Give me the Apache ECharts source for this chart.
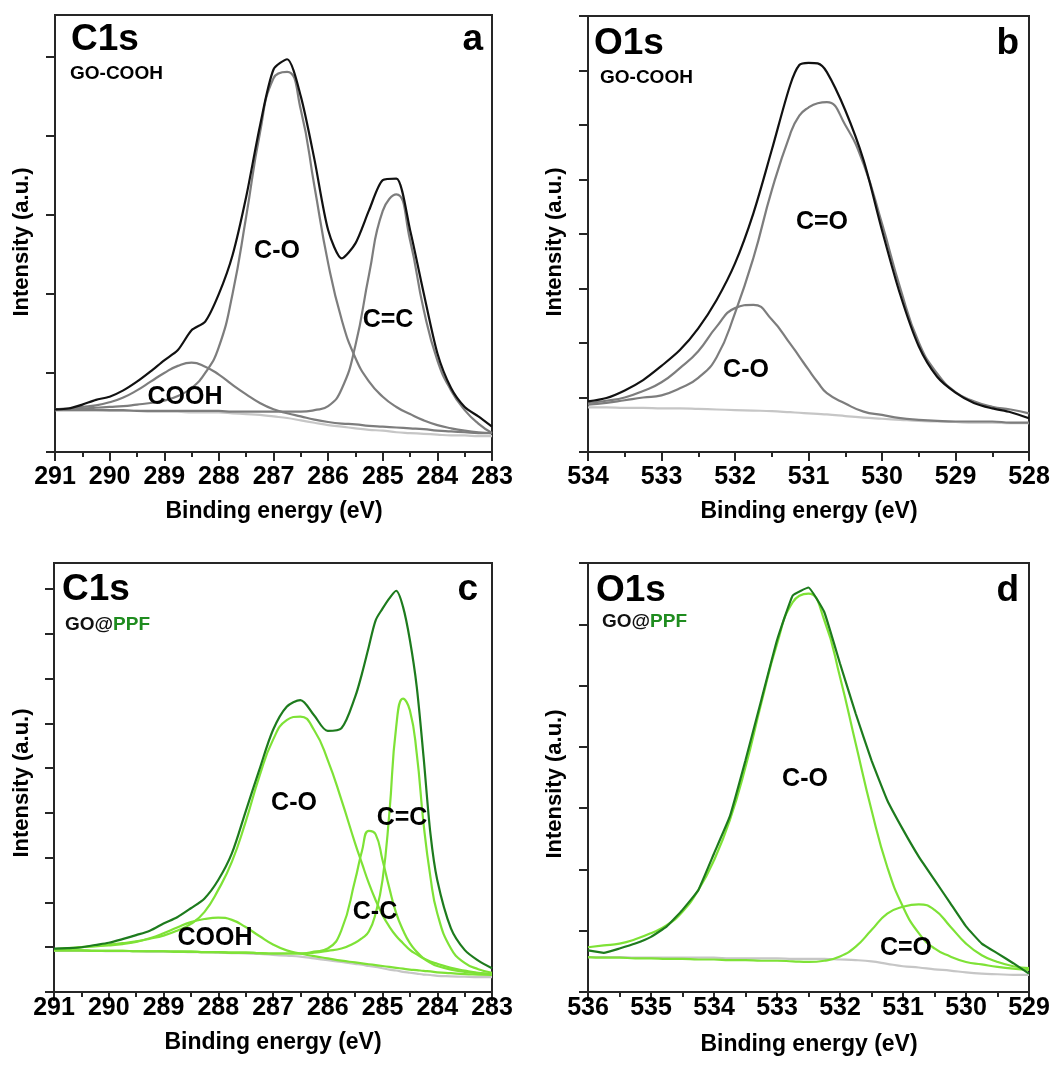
<!DOCTYPE html>
<html>
<head>
<meta charset="utf-8">
<script src="https://cdn.jsdelivr.net/npm/echarts@6/dist/echarts.min.js"></script>
<style>
html, body { margin: 0; padding: 0; background: #fff; }
#chart { width: 1058px; height: 1072px; }
</style>
</head>
<body>
<div id="chart"></div>
<script>
// panel a : C1s, GO-COOH
var energyA = [291, 290.75, 290.5, 290.25, 290, 289.75, 289.5, 289.25, 289, 288.75, 288.5, 288.25, 288, 287.75, 287.5, 287.25, 287, 286.75, 286.5, 286.25, 286, 285.75, 285.5, 285.25, 285, 284.75, 284.5, 284.25, 284, 283.75, 283.5, 283.25, 283];
var envelopeA = [0.54, 0.55, 0.60, 0.66, 0.70, 0.78, 0.89, 1.02, 1.16, 1.29, 1.54, 1.65, 2.00, 2.49, 3.23, 4.12, 4.84, 4.97, 4.50, 3.70, 2.81, 2.45, 2.64, 3.06, 3.44, 3.46, 2.81, 2.01, 1.25, 0.81, 0.57, 0.45, 0.32];
var coohA = [0.54, 0.55, 0.57, 0.59, 0.63, 0.69, 0.78, 0.89, 1.00, 1.09, 1.13, 1.08, 0.98, 0.85, 0.73, 0.62, 0.54, 0.49, 0.45, 0.41, 0.38, 0.36, 0.35, 0.33, 0.32, 0.31, 0.30, 0.29, 0.27, 0.26, 0.25, 0.24, 0.24];
var coA = [0.54, 0.55, 0.55, 0.56, 0.57, 0.58, 0.60, 0.62, 0.65, 0.71, 0.81, 1.00, 1.33, 2.00, 2.98, 4.03, 4.73, 4.81, 4.33, 3.36, 2.39, 1.67, 1.19, 0.89, 0.70, 0.57, 0.48, 0.40, 0.34, 0.30, 0.27, 0.25, 0.24];
var ccA = [0.53, 0.53, 0.53, 0.53, 0.53, 0.53, 0.52, 0.52, 0.52, 0.52, 0.52, 0.52, 0.52, 0.51, 0.51, 0.51, 0.51, 0.51, 0.51, 0.53, 0.58, 0.80, 1.35, 2.25, 3.05, 3.26, 2.68, 1.80, 1.16, 0.78, 0.53, 0.36, 0.24];
var bgA = [0.53, 0.53, 0.53, 0.53, 0.52, 0.52, 0.52, 0.51, 0.51, 0.51, 0.50, 0.50, 0.50, 0.49, 0.48, 0.47, 0.45, 0.43, 0.40, 0.37, 0.34, 0.32, 0.30, 0.28, 0.27, 0.25, 0.24, 0.23, 0.22, 0.21, 0.21, 0.20, 0.20];

// panel b : O1s, GO-COOH
var energyB = [534, 533.75, 533.5, 533.25, 533, 532.75, 532.5, 532.25, 532, 531.75, 531.5, 531.25, 531.125, 531, 530.875, 530.75, 530.5, 530.25, 530, 529.75, 529.5, 529.25, 529, 528.75, 528.5, 528.25, 528];
var envelopeB = [0.93, 0.99, 1.13, 1.32, 1.58, 1.87, 2.27, 2.79, 3.46, 4.38, 5.54, 6.73, 7.10, 7.14, 7.13, 6.97, 6.27, 5.35, 4.07, 2.88, 1.94, 1.38, 1.09, 0.90, 0.80, 0.73, 0.62];
var coB = [0.90, 0.94, 1.00, 1.12, 1.28, 1.54, 1.85, 2.30, 2.64, 2.70, 2.43, 1.99, 1.75, 1.51, 1.28, 1.08, 0.89, 0.74, 0.68, 0.62, 0.59, 0.57, 0.56, 0.56, 0.56, 0.54, 0.54];
var cdoB = [0.87, 0.90, 0.95, 1.00, 1.04, 1.17, 1.36, 1.74, 2.55, 3.56, 4.80, 5.83, 6.17, 6.32, 6.40, 6.42, 6.00, 5.28, 4.19, 3.00, 2.01, 1.44, 1.10, 0.93, 0.83, 0.78, 0.71];
var bgB = [0.82, 0.82, 0.81, 0.81, 0.80, 0.80, 0.79, 0.78, 0.77, 0.76, 0.75, 0.73, 0.72, 0.71, 0.70, 0.69, 0.66, 0.63, 0.61, 0.59, 0.57, 0.56, 0.55, 0.54, 0.54, 0.53, 0.53];

// panel c : C1s, GO@PPF
var energyC = [291, 290.75, 290.5, 290.25, 290, 289.75, 289.5, 289.25, 289, 288.75, 288.5, 288.25, 288, 287.75, 287.5, 287.25, 287, 286.75, 286.5, 286.25, 286, 285.75, 285.5, 285.375, 285.25, 285.125, 285, 284.875, 284.75, 284.625, 284.5, 284.375, 284.25, 284.125, 284, 283.75, 283.5, 283.25, 283];
var envelopeC = [0.97, 0.98, 1.00, 1.05, 1.10, 1.18, 1.27, 1.37, 1.53, 1.67, 1.87, 2.09, 2.50, 3.10, 4.03, 4.96, 5.85, 6.37, 6.52, 6.18, 5.83, 5.89, 6.59, 7.11, 7.71, 8.30, 8.56, 8.79, 8.96, 8.60, 7.86, 6.82, 5.25, 3.54, 2.50, 1.42, 0.94, 0.70, 0.53];
var coC = [0.95, 0.97, 1.00, 1.03, 1.06, 1.09, 1.13, 1.19, 1.26, 1.37, 1.52, 1.79, 2.28, 2.91, 3.80, 4.81, 5.63, 6.07, 6.15, 5.85, 5.18, 4.29, 3.32, 2.87, 2.43, 2.05, 1.72, 1.46, 1.25, 1.09, 0.94, 0.84, 0.75, 0.68, 0.63, 0.54, 0.48, 0.43, 0.40];
var ccC = [0.93, 0.93, 0.93, 0.92, 0.92, 0.92, 0.91, 0.91, 0.91, 0.90, 0.90, 0.89, 0.89, 0.88, 0.88, 0.87, 0.86, 0.86, 0.86, 0.88, 0.92, 0.97, 1.10, 1.20, 1.35, 1.76, 2.50, 3.99, 5.92, 6.55, 6.29, 5.33, 3.76, 2.57, 1.76, 0.97, 0.65, 0.51, 0.43];
var csC = [0.93, 0.93, 0.93, 0.92, 0.92, 0.92, 0.91, 0.91, 0.91, 0.90, 0.90, 0.89, 0.89, 0.88, 0.88, 0.87, 0.86, 0.86, 0.86, 0.90, 0.97, 1.38, 2.50, 3.15, 3.60, 3.52, 2.95, 2.32, 1.76, 1.38, 1.09, 0.90, 0.75, 0.65, 0.58, 0.50, 0.45, 0.42, 0.40];
var coohC = [0.95, 0.98, 1.00, 1.02, 1.04, 1.07, 1.12, 1.20, 1.31, 1.44, 1.56, 1.63, 1.66, 1.61, 1.45, 1.25, 1.06, 0.93, 0.86, 0.80, 0.75, 0.70, 0.66, 0.64, 0.62, 0.60, 0.58, 0.56, 0.54, 0.52, 0.50, 0.49, 0.47, 0.46, 0.44, 0.42, 0.40, 0.39, 0.38];
var bgC = [0.92, 0.92, 0.92, 0.92, 0.91, 0.91, 0.91, 0.90, 0.90, 0.90, 0.89, 0.89, 0.88, 0.87, 0.86, 0.85, 0.83, 0.81, 0.79, 0.75, 0.71, 0.67, 0.63, 0.61, 0.58, 0.56, 0.53, 0.50, 0.48, 0.45, 0.43, 0.41, 0.39, 0.38, 0.36, 0.35, 0.34, 0.33, 0.33];

// panel d : O1s, GO@PPF
var energyD = [536, 535.75, 535.5, 535.25, 535, 534.75, 534.5, 534.25, 534, 533.75, 533.5, 533.25, 533, 532.75, 532.5, 532.25, 532, 531.75, 531.5, 531.25, 531, 530.75, 530.5, 530.25, 530, 529.75, 529.5, 529.25, 529];
var envelopeD = [0.68, 0.64, 0.71, 0.79, 0.90, 1.07, 1.34, 1.66, 2.26, 2.86, 3.78, 4.76, 5.74, 6.47, 6.60, 6.20, 5.36, 4.54, 3.78, 3.13, 2.65, 2.21, 1.83, 1.45, 1.07, 0.79, 0.63, 0.47, 0.30];
var coD = [0.73, 0.76, 0.79, 0.86, 0.96, 1.09, 1.31, 1.66, 2.15, 2.80, 3.67, 4.71, 5.68, 6.36, 6.50, 6.07, 5.14, 4.05, 2.97, 2.04, 1.39, 0.96, 0.71, 0.58, 0.49, 0.45, 0.41, 0.38, 0.36];
var cdoD = [0.57, 0.56, 0.56, 0.55, 0.55, 0.54, 0.54, 0.53, 0.53, 0.52, 0.52, 0.51, 0.51, 0.50, 0.49, 0.51, 0.58, 0.74, 1.01, 1.28, 1.39, 1.43, 1.34, 1.07, 0.79, 0.60, 0.49, 0.42, 0.39];
var bgD = [0.57, 0.57, 0.57, 0.56, 0.56, 0.56, 0.56, 0.56, 0.56, 0.55, 0.55, 0.55, 0.55, 0.54, 0.54, 0.54, 0.53, 0.52, 0.50, 0.46, 0.42, 0.40, 0.37, 0.35, 0.32, 0.30, 0.29, 0.28, 0.28];

// y ticks (arbitrary units, one per tick mark)
var yTicksA = [0, 1, 2, 3, 4, 5];
var yTicksB = [0, 1, 2, 3, 4, 5, 6, 7, 8];
var yTicksC = [0, 1, 2, 3, 4, 5, 6, 7, 8, 9];
var yTicksD = [0, 1, 2, 3, 4, 5, 6, 7];

var FONT = '"Liberation Sans", Arial, Helvetica, sans-serif';
var AXIS = '#262626';
var BLACK = '#111111', GRAY = '#7d7d7d', LIGHT = '#c6c6c6';
var DARKGREEN = '#1d7b1d', GREEN = '#7ee236';

function pairs(xs, ys) {
  return xs.map(function(x, i) {
    return [x, ys[i]];
  });
}

function curve(i, xs, ys, color, smooth) {
  return {
    type: 'line',
    xAxisIndex: i,
    yAxisIndex: i,
    data: pairs(xs, ys),
    symbol: 'none',
    smooth: smooth,
    silent: true,
    lineStyle: { color: color, width: 2.2 }
  };
}

function makeGrid(box) {
  return {
    left: box[0], top: box[1], width: box[2], height: box[3],
    show: true, borderColor: AXIS, borderWidth: 2,
    backgroundColor: 'transparent', containLabel: false, outerBoundsMode: 'none'
  };
}

function makeX(i, min, max, margin) {
  var ls = { color: AXIS, width: 2 };
  return {
    gridIndex: i, type: 'value', min: min, max: max, interval: 1, inverse: true,
    axisLine: { show: true, onZero: false, lineStyle: ls },
    axisTick: { show: true, inside: false, length: 9, lineStyle: ls },
    minorTick: { show: true, splitNumber: 2, length: 5, lineStyle: ls },
    splitLine: { show: false }, minorSplitLine: { show: false },
    axisLabel: {
      show: true, margin: margin, color: '#000', fontSize: 25, fontWeight: 'bold',
      fontFamily: FONT, showMinLabel: true, showMaxLabel: true, hideOverlap: false
    }
  };
}

function makeY(i, max, ticks) {
  var ls = { color: AXIS, width: 2 };
  return {
    gridIndex: i, type: 'value', min: 0, max: max,
    axisLine: { show: true, onZero: false, lineStyle: ls },
    axisTick: { show: true, inside: false, length: 9, customValues: ticks, lineStyle: ls },
    axisLabel: { show: false },
    splitLine: { show: false }
  };
}

function text(x, y, str, size, align, rot) {
  return {
    type: 'text', x: x, y: y, rotation: rot || 0, silent: true, z: 100,
    style: {
      text: str, fontFamily: FONT, fontWeight: 'bold', fontSize: size,
      fill: '#000', align: align || 'center', verticalAlign: 'middle'
    }
  };
}

function ppfText(x, y) {
  var el = text(x, y, '{k|GO@}{g|PPF}', 19, 'left');
  el.style.rich = {
    k: { fill: '#111', fontSize: 19, fontWeight: 'bold', fontFamily: FONT },
    g: { fill: '#1f8c1f', fontSize: 19, fontWeight: 'bold', fontFamily: FONT }
  };
  return el;
}

var graphics = [
  // panel a
  text(71, 40, 'C1s', 37, 'left'),
  text(70, 74, 'GO-COOH', 19, 'left'),
  text(483, 40, 'a', 37, 'right'),
  text(277, 251, 'C-O', 25),
  text(388, 320, 'C=C', 25),
  text(185, 397, 'COOH', 25),
  text(22, 242, 'Intensity (a.u.)', 22, 'center', Math.PI / 2),
  text(274, 512, 'Binding energy (eV)', 23),
  // panel b
  text(594, 44, 'O1s', 37, 'left'),
  text(600, 78, 'GO-COOH', 19, 'left'),
  text(1019, 44, 'b', 37, 'right'),
  text(822, 222, 'C=O', 25),
  text(746, 370, 'C-O', 25),
  text(555, 242, 'Intensity (a.u.)', 22, 'center', Math.PI / 2),
  text(809, 512, 'Binding energy (eV)', 23),
  // panel c
  text(62, 590, 'C1s', 37, 'left'),
  ppfText(65, 625),
  text(478, 590, 'c', 37, 'right'),
  text(294, 803, 'C-O', 25),
  text(402, 818, 'C=C', 25),
  text(375, 912, 'C-C', 25),
  text(215, 938, 'COOH', 25),
  text(22, 783, 'Intensity (a.u.)', 22, 'center', Math.PI / 2),
  text(273, 1043, 'Binding energy (eV)', 23),
  // panel d
  text(596, 591, 'O1s', 37, 'left'),
  ppfText(602, 622),
  text(1019, 591, 'd', 37, 'right'),
  text(805, 779, 'C-O', 25),
  text(906, 948, 'C=O', 25),
  text(555, 784, 'Intensity (a.u.)', 22, 'center', Math.PI / 2),
  text(809, 1045, 'Binding energy (eV)', 23)
];

var option = {
  animation: false,
  backgroundColor: '#fff',
  grid: [
    makeGrid([55, 15, 437, 437]),
    makeGrid([588, 16, 441, 436]),
    makeGrid([54, 563, 438, 429]),
    makeGrid([588, 563, 441, 429])
  ],
  xAxis: [
    makeX(0, 283, 291, 13),
    makeX(1, 528, 534, 13),
    makeX(2, 283, 291, 4),
    makeX(3, 529, 536, 4)
  ],
  yAxis: [
    makeY(0, 5.53, yTicksA),
    makeY(1, 8, yTicksB),
    makeY(2, 9.58, yTicksC),
    makeY(3, 7, yTicksD)
  ],
  series: [
    curve(0, energyA, bgA, LIGHT, 0.4),
    curve(0, energyA, coohA, GRAY, 0.5),
    curve(0, energyA, coA, GRAY, 0.5),
    curve(0, energyA, ccA, GRAY, 0.5),
    curve(0, energyA, envelopeA, BLACK, 0.25),

    curve(1, energyB, bgB, LIGHT, 0.4),
    curve(1, energyB, coB, GRAY, 0.5),
    curve(1, energyB, cdoB, GRAY, 0.5),
    curve(1, energyB, envelopeB, BLACK, 0.3),

    curve(2, energyC, bgC, LIGHT, 0.4),
    curve(2, energyC, coohC, GREEN, 0.5),
    curve(2, energyC, coC, GREEN, 0.5),
    curve(2, energyC, csC, GREEN, 0.5),
    curve(2, energyC, ccC, GREEN, 0.5),
    curve(2, energyC, envelopeC, DARKGREEN, 0.3),

    curve(3, energyD, bgD, LIGHT, 0.4),
    curve(3, energyD, coD, GREEN, 0.5),
    curve(3, energyD, cdoD, GREEN, 0.5),
    curve(3, energyD, envelopeD, DARKGREEN, 0.1)
  ],
  graphic: graphics
};

var chart = echarts.init(document.getElementById('chart'), null, { renderer: 'canvas' });
chart.setOption(option);
</script>
</body>
</html>
